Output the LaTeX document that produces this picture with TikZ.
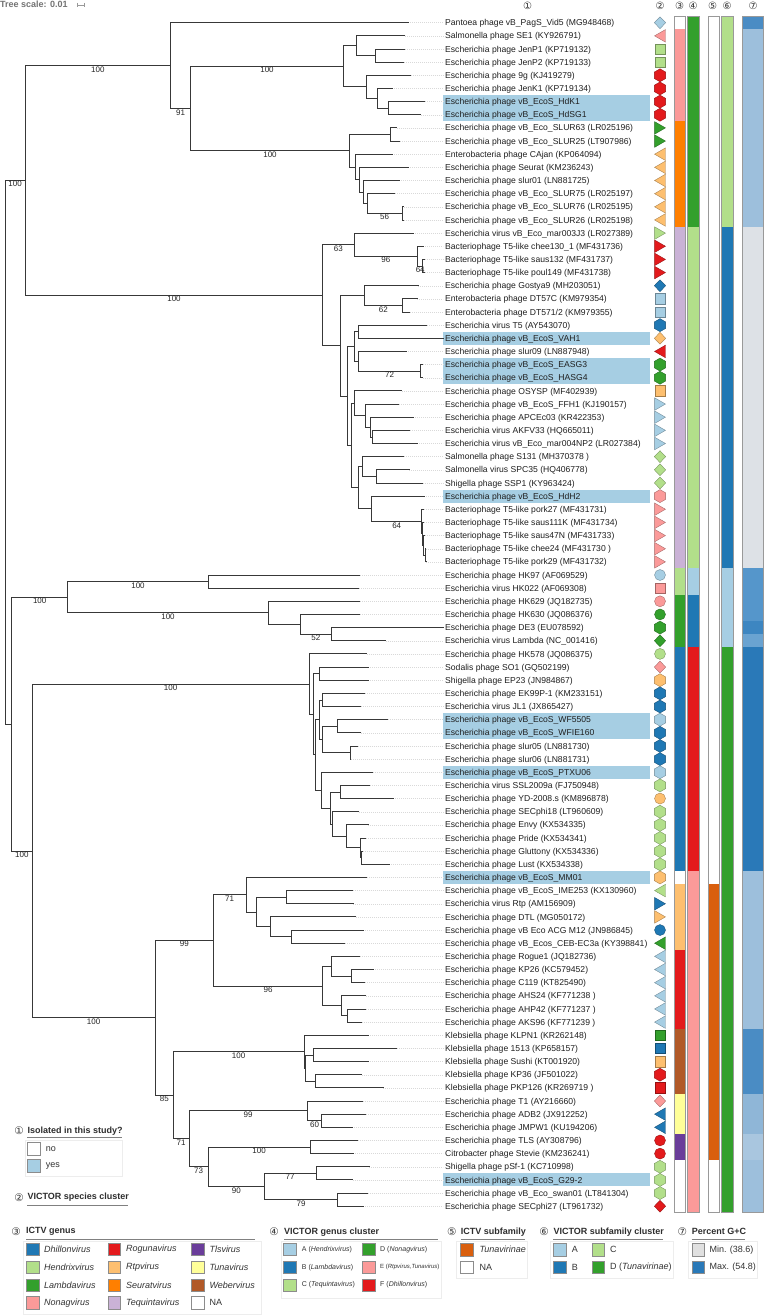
\documentclass[tikz,border=0pt]{standalone}
\usepackage{fontspec}
\setmainfont{Liberation Sans}
\newfontfamily\dvfont{DejaVu Sans}
\usetikzlibrary{calc,shapes.geometric}
\definecolor{cLB}{HTML}{A6CEE3}
\definecolor{cB}{HTML}{1F78B4}
\definecolor{cLG}{HTML}{B2DF8A}
\definecolor{cG}{HTML}{33A02C}
\definecolor{cPk}{HTML}{FB9A99}
\definecolor{cR}{HTML}{E31A1C}
\definecolor{cLO}{HTML}{FDBF6F}
\definecolor{cO}{HTML}{FF7F00}
\definecolor{cLP}{HTML}{CAB2D6}
\definecolor{cP}{HTML}{6A3D9A}
\definecolor{cY}{HTML}{FFFF99}
\definecolor{cBr}{HTML}{B15928}
\definecolor{cTu}{HTML}{D95F0E}
\definecolor{gA}{HTML}{4A8CC4}
\definecolor{gB}{HTML}{9DBFDC}
\definecolor{gC}{HTML}{DDE1E6}
\definecolor{gD}{HTML}{5596CB}
\definecolor{gE}{HTML}{3D86C1}
\definecolor{gF}{HTML}{6AA3D1}
\definecolor{gG}{HTML}{2A79B8}
\definecolor{gH}{HTML}{8FB6D7}
\definecolor{gI}{HTML}{A9C6DF}
\definecolor{gMin}{HTML}{E0E0E0}
\definecolor{gMax}{HTML}{2A79B8}
\definecolor{hl}{HTML}{A6CEE3}
\newcommand{\trn}[4]{%
  \path let \p1=(#3), \p2=(#4) in coordinate (#1) at (#2pt,{0.5*\y1+0.5*\y2});
  \draw[br] (#3) -| (#1);
  \draw[br] (#4) -| (#1);}
\newcommand{\bsv}[3]{\node[boot] (b#1) at ($(#1)!0.5!(#2 |- #1)$) {#3};}
\newcommand{\strp}[5]{\fill[#5] (#1,{22.7+(#3-1)*13.15-6.575}) rectangle (#2,{22.7+(#4-1)*13.15+6.575});}
\newcommand{\hlb}[2]{\fill[hl] (443.3,{22.7+(#1-1)*13.15-6.575}) rectangle (650,{22.7+(#2-1)*13.15+6.575});}
\newcommand{\lsw}[6]{\draw[swb, fill=#4] (#2,#3-6.2) rectangle ++(12.8,12.4); \node[li] (#1) at (#6,#3) {#5};}
\newcommand{\lswf}[6]{\draw[swb, fill=#4] (#2,#3-6.2) rectangle ++(12.8,12.4); \node[li4] (#1) at (#6,#3) {#5};}
\begin{document}
\begin{tikzpicture}[x=1pt,y=-1pt,
  br/.style={draw=black!78, line width=0.85pt, line cap=rect},
  boot/.style={below, inner sep=0.8pt, font=\fontsize{8}{9}\selectfont, text=black!85},
  lbl/.style={anchor=west, inner sep=0pt, text height=6.2pt, text depth=0pt, font=\fontsize{8.6}{10}\selectfont, text=black!88},
  lead/.style={draw=black!15, line width=0.4pt, dash pattern=on 0.7pt off 1.3pt},
  mk/.style={draw=#1!65!black, fill=#1, line width=0.35pt, inner sep=0pt},
  sq/.style={mk=#1, rectangle, minimum size=10.5pt},
  ci/.style={mk=#1, circle, minimum size=11pt},
  di/.style={mk=#1, diamond, minimum width=11.5pt, minimum height=12pt},
  hx/.style={mk=#1, regular polygon, regular polygon sides=6, shape border rotate=30, minimum size=13pt},
  tl/.style={mk=#1, regular polygon, regular polygon sides=3, shape border rotate=90, minimum size=14.5pt, xshift=1.8pt},
  tr/.style={mk=#1, regular polygon, regular polygon sides=3, shape border rotate=-90, minimum size=14.5pt, xshift=-1.8pt},
  stripline/.style={draw=black!40, line width=0.45pt},
  hdr/.style={font=\dvfont\fontsize{10}{11}\selectfont, text=black!80, inner sep=0pt},
  cn/.style={font=\dvfont\fontsize{10.5}{11}\selectfont, text=black!80, inner sep=0pt},
  lt/.style={anchor=west, inner sep=0pt, font=\bfseries\fontsize{9}{10}\selectfont, text=black!82},
  li/.style={anchor=west, inner sep=0pt, font=\fontsize{9}{10}\selectfont, text=black!80},
  li4/.style={anchor=west, inner sep=0pt, font=\fontsize{7}{8}\selectfont, text=black!80},
  ul/.style={draw=black!50, line width=0.6pt},
  pnl/.style={draw=black!7, line width=0.6pt},
  swb/.style={draw=black!45, line width=0.4pt}
]
\useasboundingbox (0,0) rectangle (765,1316);
\fill[white] (0,0) rectangle (765,1316);

% tree scale
\node[anchor=west, inner sep=0pt, font=\bfseries\fontsize{9}{10}\selectfont, text=black!55] (ts) at (0,4.5) {Tree scale: 0.01};
\coordinate (sc1) at (77,5); \coordinate (sc2) at (84,5);
\draw[black!40, line width=0.5pt] (sc1) -- (sc2) (77,3) -- (77,7) (84,3) -- (84,7);

% highlight boxes (isolated in this study)
\hlb{7}{8} \hlb{25}{25} \hlb{27}{28} \hlb{37}{37} \hlb{54}{55} \hlb{58}{58} \hlb{66}{66} \hlb{89}{89}

% leaves
\foreach \i/\tp/\sh/\cl/\tx in {
1/408.3/di/cLB/{Pantoea phage vB\_PagS\_Vid5 (MG948468)},
2/405/tl/cPk/{Salmonella phage SE1 (KY926791)},
3/405/sq/cLG/{Escherichia phage JenP1 (KP719132)},
4/404/sq/cLG/{Escherichia phage JenP2 (KP719133)},
5/410.7/hx/cR/{Escherichia phage 9g (KJ419279)},
6/392.3/hx/cR/{Escherichia phage JenK1 (KP719134)},
7/425/hx/cR/{Escherichia phage vB\_EcoS\_HdK1},
8/420.7/hx/cR/{Escherichia phage vB\_EcoS\_HdSG1},
9/396.7/tr/cG/{Escherichia phage vB\_Eco\_SLUR63 (LR025196)},
10/400/tr/cG/{Escherichia phage vB\_Eco\_SLUR25 (LT907986)},
11/392.3/tl/cLO/{Enterobacteria phage CAjan (KP064094)},
12/408.3/tl/cLO/{Escherichia phage Seurat (KM236243)},
13/399.3/tl/cLO/{Escherichia phage slur01 (LN881725)},
14/395/tl/cLO/{Escherichia phage vB\_Eco\_SLUR75 (LR025197)},
15/403.5/tl/cLO/{Escherichia phage vB\_Eco\_SLUR76 (LR025195)},
16/403.5/tl/cLO/{Escherichia phage vB\_Eco\_SLUR26 (LR025198)},
17/413.3/tr/cLG/{Escherichia virus vB\_Eco\_mar003J3 (LR027389)},
18/423.3/tr/cR/{Bacteriophage T5-like chee130\_1 (MF431736)},
19/424.5/tr/cR/{Bacteriophage T5-like saus132 (MF431737)},
20/425/tr/cR/{Bacteriophage T5-like poul149 (MF431738)},
21/418.3/di/cB/{Escherichia phage Gostya9 (MH203051)},
22/417.3/sq/cLB/{Enterobacteria phage DT57C (KM979354)},
23/410/sq/cLB/{Enterobacteria phage DT571/2 (KM979355)},
24/427/hx/cB/{Escherichia virus T5 (AY543070)},
25/443.3/di/cLO/{Escherichia phage vB\_EcoS\_VAH1},
26/406.3/tl/cR/{Escherichia phage slur09 (LN887948)},
27/422.5/hx/cG/{Escherichia phage vB\_EcoS\_EASG3},
28/422.5/hx/cG/{Escherichia phage vB\_EcoS\_HASG4},
29/401.7/sq/cLO/{Escherichia phage OSYSP (MF402939)},
30/399/tr/cLB/{Escherichia phage vB\_EcoS\_FFH1 (KJ190157)},
31/413.3/tr/cLB/{Escherichia phage APCEc03 (KR422353)},
32/410/tr/cLB/{Escherichia virus AKFV33 (HQ665011)},
33/417.3/tr/cLB/{Escherichia virus vB\_Eco\_mar004NP2 (LR027384)},
34/404/di/cLG/{Salmonella phage S131 (MH370378 )},
35/409.3/di/cLG/{Salmonella virus SPC35 (HQ406778)},
36/422.7/di/cLG/{Shigella phage SSP1 (KY963424)},
37/424.3/hx/cPk/{Escherichia phage vB\_EcoS\_HdH2},
38/423.5/tr/cPk/{Bacteriophage T5-like pork27 (MF431731)},
39/424/tr/cPk/{Bacteriophage T5-like saus111K (MF431734)},
40/424.5/tr/cPk/{Bacteriophage T5-like saus47N (MF431733)},
41/425.7/tr/cPk/{Bacteriophage T5-like chee24 (MF431730 )},
42/426.3/tr/cPk/{Bacteriophage T5-like pork29 (MF431732)},
43/360/ci/cLB/{Escherichia phage HK97 (AF069529)},
44/359/sq/cPk/{Escherichia virus HK022 (AF069308)},
45/360/ci/cPk/{Escherichia phage HK629 (JQ182735)},
46/360/ci/cG/{Escherichia phage HK630 (JQ086376)},
47/443.3/hx/cG/{Escherichia phage DE3 (EU078592)},
48/385.7/di/cG/{Escherichia virus Lambda (NC\_001416)},
49/366.7/ci/cLG/{Escherichia phage HK578 (JQ086375)},
50/368.3/di/cPk/{Sodalis phage SO1 (GQ502199)},
51/368.3/hx/cLO/{Shigella phage EP23 (JN984867)},
52/365/hx/cB/{Escherichia phage EK99P-1 (KM233151)},
53/361/hx/cB/{Escherichia virus JL1 (JX865427)},
54/387.7/hx/cLB/{Escherichia phage vB\_EcoS\_WF5505},
55/361/hx/cB/{Escherichia phage vB\_EcoS\_WFIE160},
56/357.7/hx/cB/{Escherichia phage slur05 (LN881730)},
57/351/hx/cB/{Escherichia phage slur06 (LN881731)},
58/372.7/hx/cLB/{Escherichia phage vB\_EcoS\_PTXU06},
59/370/hx/cLG/{Escherichia virus SSL2009a (FJ750948)},
60/393.3/ci/cLO/{Escherichia phage YD-2008.s (KM896878)},
61/359/hx/cLG/{Escherichia phage SECphi18 (LT960609)},
62/368.3/hx/cLG/{Escherichia phage Envy (KX534335)},
63/366/hx/cLG/{Escherichia phage Pride (KX534341)},
64/362.5/hx/cLG/{Escherichia phage Gluttony (KX534336)},
65/389.3/hx/cLG/{Escherichia phage Lust (KX534338)},
66/366.7/hx/cLO/{Escherichia phage vB\_EcoS\_MM01},
67/352.7/tl/cLG/{Escherichia phage vB\_EcoS\_IME253 (KX130960)},
68/353.3/tr/cB/{Escherichia virus Rtp (AM156909)},
69/356/tr/cLO/{Escherichia phage DTL (MG050172)},
70/363.3/ci/cB/{Escherichia phage vB Eco ACG M12 (JN986845)},
71/345/tl/cG/{Escherichia phage vB\_Ecos\_CEB-EC3a (KY398841)},
72/360/tl/cLB/{Escherichia phage Rogue1 (JQ182736)},
73/373.3/tl/cLB/{Escherichia phage KP26 (KC579452)},
74/365/tl/cLB/{Escherichia phage C119 (KT825490)},
75/366/tl/cLB/{Escherichia phage AHS24 (KF771238 )},
76/366/tl/cLB/{Escherichia phage AHP42 (KF771237 )},
77/361.7/tl/cLB/{Escherichia phage AKS96 (KF771239 )},
78/368.3/sq/cG/{Klebsiella phage KLPN1 (KR262148)},
79/396.7/sq/cB/{Klebsiella phage 1513 (KP658157)},
80/368.3/sq/cLO/{Klebsiella phage Sushi (KT001920)},
81/361.7/hx/cR/{Klebsiella phage KP36 (JF501022)},
82/383.3/sq/cR/{Klebsiella phage PKP126 (KR269719 )},
83/362.7/di/cPk/{Escherichia phage T1 (AY216660)},
84/366/tl/cB/{Escherichia phage ADB2 (JX912252)},
85/352.3/tl/cB/{Escherichia phage JMPW1 (KU194206)},
86/357.7/ci/cR/{Escherichia phage TLS (AY308796)},
87/353.3/ci/cR/{Citrobacter phage Stevie (KM236241)},
88/369.3/hx/cLG/{Shigella phage pSf-1 (KC710998)},
89/352.7/hx/cLG/{Escherichia phage vB\_EcoS\_G29-2},
90/367.7/hx/cLG/{Escherichia phage vB\_Eco\_swan01 (LT841304)},
91/363.3/di/cR/{Escherichia phage SECphi27 (LT961732)}}{
  \pgfmathsetmacro\yy{22.7+(\i-1)*13.15}
  \coordinate (L\i) at (\tp,\yy);
  \node[lbl] (T\i) at (445,\yy) {\tx};
  \draw[lead] (L\i) -- ([xshift=-1.7pt]T\i.west);
  \edef\mkcmd{\noexpand\node[\sh=\cl] (S\i) at (660,\yy) {};}\mkcmd
}

% ---------- tree: clade A ----------
\trn{a1}{375.7}{L3}{L4}
\trn{a2}{356}{L2}{a1}
\trn{a3}{388.7}{L7}{L8}
\trn{a4}{377}{L6}{a3}
\trn{a5}{366.3}{L5}{a4}
\trn{nA2a}{343.3}{a2}{a5}
\trn{a6}{390.7}{L9}{L10}
\trn{a7}{402}{L15}{L16}
\trn{a8}{367}{L14}{a7}
\trn{a9}{363}{L13}{a8}
\trn{a10}{359}{L12}{a9}
\trn{a11}{355}{L11}{a10}
\trn{nA2b}{349.3}{a6}{a11}
\trn{nA2}{190.7}{nA2a}{nA2b}
\trn{nA1}{170.3}{L1}{nA2}
\trn{c1}{422.7}{L19}{L20}
\trn{c2}{417.7}{L18}{c1}
\trn{c3}{354}{L17}{c2}
\trn{c4}{402.7}{L22}{L23}
\trn{c5}{364}{L21}{c4}
\trn{c6}{358.3}{L24}{L25}
\trn{c7}{420.7}{L27}{L28}
\trn{c8}{358.3}{L26}{c7}
\trn{c9}{354}{c6}{c8}
\trn{c10}{372.3}{L32}{L33}
\trn{c11}{370.7}{L31}{c10}
\trn{c12}{365}{L30}{c11}
\trn{c13}{354}{L29}{c12}
\trn{c14}{376}{L35}{L36}
\trn{c15}{362.7}{L34}{c14}
\trn{c16}{425}{L41}{L42}
\trn{c17}{423.5}{L40}{c16}
\trn{c18}{422.5}{L39}{c17}
\trn{c19}{421.7}{L38}{c18}
\trn{c20}{371.7}{L37}{c19}
\trn{c21}{358.3}{c15}{c20}
\trn{c22}{351.7}{c13}{c21}
\trn{c23}{347.7}{c9}{c22}
\trn{c24}{340}{c5}{c23}
\trn{nC}{322.7}{c3}{c24}
\trn{nA}{25.3}{nA1}{nC}
% ---------- clade B ----------
\trn{h1}{208.3}{L43}{L44}
\trn{h2}{331.3}{L47}{L48}
\trn{h3}{300.3}{L46}{h2}
\trn{h4}{268.3}{L45}{h3}
\trn{nH}{67.7}{h1}{h4}
\trn{j1}{319.3}{L50}{L51}
\trn{j2}{322.3}{L52}{L53}
\trn{j3}{337.3}{L54}{L55}
\trn{j4}{350}{L56}{L57}
\trn{j5}{322.7}{j3}{j4}
\trn{nM}{319.3}{j2}{j5}
\trn{j6}{340}{L59}{L60}
\trn{j7}{361.7}{L64}{L65}
\trn{j8}{360.7}{L63}{j7}
\trn{j9}{346.7}{L62}{j8}
\trn{j10}{332.7}{L61}{j9}
\trn{j11}{330}{j6}{j10}
\trn{nN}{321.7}{L58}{j11}
\trn{nL}{315}{nM}{nN}
\trn{nK}{313.3}{j1}{nL}
\trn{nJ}{309.3}{L49}{nK}
\trn{o1}{286}{L67}{L68}
\trn{o2}{291.7}{L70}{L71}
\trn{o3}{270}{L69}{o2}
\trn{o4}{256.7}{o1}{o3}
\trn{nQ}{246}{L66}{o4}
\trn{o5}{351.7}{L73}{L74}
\trn{o6}{331}{L72}{o5}
\trn{o7}{347.7}{L76}{L77}
\trn{o8}{341.7}{L75}{o7}
\trn{nR}{322.7}{o6}{o8}
\trn{nP}{213.3}{nQ}{nR}
\trn{s1}{313.3}{L79}{L80}
\trn{s2}{315}{L81}{L82}
\trn{nU}{305.5}{s1}{s2}
\trn{nT}{304}{L78}{nU}
\trn{w1}{321.7}{L84}{L85}
\trn{nW}{307.3}{L83}{w1}
\trn{x1}{310}{L86}{L87}
\trn{y1}{316}{L88}{L89}
\trn{y2}{337.7}{L90}{L91}
\trn{nY}{264.3}{y1}{y2}
\trn{nX}{208.3}{x1}{nY}
\trn{nV}{189}{nW}{nX}
\trn{nS}{173.3}{nT}{nV}
\trn{nO}{155.3}{nP}{nS}
\trn{nI}{32}{nJ}{nO}
\trn{nB}{11.7}{nH}{nI}
\trn{root}{5}{nA}{nB}

% bootstrap values
\bsv{nA}{root}{100}
\bsv{nA1}{nA}{100}
\bsv{nC}{nA}{100}
\bsv{nA2}{nA1}{91}
\bsv{nA2a}{nA2}{100}
\bsv{nA2b}{nA2}{100}
\bsv{a7}{a8}{56}
\bsv{c3}{nC}{63}
\bsv{c2}{c3}{96}
\bsv{c1}{c2}{64}
\bsv{c4}{c5}{62}
\bsv{c7}{c8}{72}
\bsv{c19}{c20}{64}
\bsv{nH}{nB}{100}
\bsv{nI}{nB}{100}
\bsv{h1}{nH}{100}
\bsv{h4}{nH}{100}
\bsv{h2}{h3}{52}
\bsv{nJ}{nI}{100}
\bsv{nO}{nI}{100}
\bsv{nP}{nO}{99}
\bsv{nQ}{nP}{71}
\bsv{nR}{nP}{96}
\bsv{nS}{nO}{85}
\bsv{nT}{nS}{100}
\bsv{nV}{nS}{71}
\bsv{nW}{nV}{99}
\bsv{w1}{nW}{60}
\bsv{nX}{nV}{73}
\bsv{x1}{nX}{100}
\bsv{nY}{nX}{90}
\bsv{y1}{nY}{77}
\bsv{y2}{nY}{79}

% ---------- strips ----------
% 3 ICTV genus
\strp{674.7}{685.7}{2}{8}{cPk}
\strp{674.7}{685.7}{9}{16}{cO}
\strp{674.7}{685.7}{17}{42}{cLP}
\strp{674.7}{685.7}{43}{44}{cLG}
\strp{674.7}{685.7}{45}{48}{cG}
\strp{674.7}{685.7}{49}{65}{cB}
\strp{674.7}{685.7}{67}{71}{cLO}
\strp{674.7}{685.7}{72}{77}{cR}
\strp{674.7}{685.7}{78}{82}{cBr}
\strp{674.7}{685.7}{83}{85}{cY}
\strp{674.7}{685.7}{86}{87}{cP}
% 4 VICTOR genus
\strp{687}{699.3}{1}{16}{cG}
\strp{687}{699.3}{17}{42}{cLG}
\strp{687}{699.3}{43}{44}{cLB}
\strp{687}{699.3}{45}{48}{cB}
\strp{687}{699.3}{49}{65}{cR}
\strp{687}{699.3}{66}{91}{cPk}
% 5 ICTV subfamily
\strp{708.3}{719.7}{67}{87}{cTu}
% 6 VICTOR subfamily
\strp{721.7}{733.3}{1}{16}{cLG}
\strp{721.7}{733.3}{17}{42}{cB}
\strp{721.7}{733.3}{43}{48}{cLB}
\strp{721.7}{733.3}{49}{91}{cG}
% 7 G+C
\strp{742.3}{763}{1}{1}{gA}
\strp{742.3}{763}{2}{16}{gB}
\strp{742.3}{763}{17}{42}{gC}
\strp{742.3}{763}{43}{46}{gD}
\strp{742.3}{763}{47}{47}{gE}
\strp{742.3}{763}{48}{48}{gF}
\strp{742.3}{763}{49}{65}{gG}
\strp{742.3}{763}{66}{77}{gB}
\strp{742.3}{763}{78}{82}{gA}
\strp{742.3}{763}{83}{85}{gH}
\strp{742.3}{763}{86}{87}{gI}
\strp{742.3}{763}{88}{91}{gB}
\draw[stripline] (674.7,16.1) rectangle (685.7,1212.1);
\draw[stripline] (687,16.1) rectangle (699.3,1212.1);
\draw[stripline] (708.3,16.1) rectangle (719.7,1212.1);
\draw[stripline] (721.7,16.1) rectangle (733.3,1212.1);
\draw[stripline] (742.3,16.1) rectangle (763,1212.1);

% column headers
\node[hdr] (hd1) at (527.7,6) {①};
\node[hdr] (hd2) at (660,6) {②};
\node[hdr] (hd3) at (679.5,6) {③};
\node[hdr] (hd4) at (693,6) {④};
\node[hdr] (hd5) at (712.5,6) {⑤};
\node[hdr] (hd6) at (727,6) {⑥};
\node[hdr] (hd7) at (753,6) {⑦};

% ---------- legends ----------
% 1
\node[cn] (lg1n) at (19,1130.7) {①};
\node[lt] (lg1t) at (27.3,1130.7) {Isolated in this study?};
\draw[ul] (27,1137.3) -- (122,1137.3);
\draw[pnl] (25,1140) rectangle (122.7,1176.7);
\lsw{lg1a}{27.3}{1148.7}{white}{no}{45.7}
\lsw{lg1b}{27.3}{1165.8}{cLB}{yes}{45.7}
% 2
\node[cn] (lg2n) at (19,1197.3) {②};
\node[lt] (lg2t) at (27.3,1197.3) {VICTOR species cluster};
\draw[ul] (27,1205) -- (128,1205);
% 3
\node[cn] (lg3n) at (16,1231.7) {③};
\node[lt] (lg3t) at (26,1231.7) {ICTV genus};
\draw[ul] (26,1239) -- (255,1239);
\draw[pnl] (23.3,1241.5) rectangle (261.7,1314);
\lsw{g1}{26}{1249.3}{cB}{\itshape Dhillonvirus}{44}
\lsw{g2}{26}{1267.3}{cLG}{\itshape Hendrixvirus}{44}
\lsw{g3}{26}{1285}{cG}{\itshape Lambdavirus}{44}
\lsw{g4}{26}{1302.7}{cPk}{\itshape Nonagvirus}{44}
\lsw{g5}{107.7}{1249.3}{cR}{\itshape Rogunavirus}{126}
\lsw{g6}{107.7}{1267.3}{cLO}{\itshape Rtpvirus}{126}
\lsw{g7}{107.7}{1285}{cO}{\itshape Seuratvirus}{126}
\lsw{g8}{107.7}{1302.7}{cLP}{\itshape Tequintavirus}{126}
\lsw{g9}{191}{1249.3}{cP}{\itshape Tlsvirus}{209.3}
\lsw{g10}{191}{1267.3}{cY}{\itshape Tunavirus}{209.3}
\lsw{g11}{191}{1285}{cBr}{\itshape Webervirus}{209.3}
\lsw{g12}{191}{1302.7}{white}{NA}{209.3}
% 4
\node[cn] (lg4n) at (274,1231.7) {④};
\node[lt] (lg4t) at (284,1231.7) {VICTOR genus cluster};
\draw[ul] (284,1239) -- (438,1239);
\draw[pnl] (281,1241.5) rectangle (441.5,1298.3);
\lswf{v1}{283.3}{1249.3}{cLB}{A (\textit{Hendrixvirus})}{301.7}
\lswf{v2}{283.3}{1267.3}{cB}{B (\textit{Lambdavirus})}{301.7}
\lswf{v3}{283.3}{1285}{cLG}{C (\textit{Tequintavirus})}{301.7}
\lswf{v4}{362.3}{1249.3}{cG}{D (\textit{Nonagvirus})}{380}
\lswf{v5}{362.3}{1267.3}{cPk}{\fontsize{6}{7}\selectfont E (\textit{Rtpvirus,Tunavirus})}{380}
\lswf{v6}{362.3}{1285}{cR}{F (\textit{Dhillonvirus})}{380}
% 5
\node[cn] (lg5n) at (451.7,1231.7) {⑤};
\node[lt] (lg5t) at (460.7,1231.7) {ICTV subfamily};
\draw[ul] (460.7,1239) -- (525,1239);
\draw[pnl] (456.7,1241.5) rectangle (527.3,1278.3);
\lsw{u1}{460}{1249.7}{cTu}{\itshape Tunavirinae}{479.3}
\lsw{u2}{460}{1267.3}{white}{NA}{479.3}
% 6
\node[cn] (lg6n) at (544,1231.7) {⑥};
\node[lt] (lg6t) at (553.3,1231.7) {VICTOR subfamily cluster};
\draw[ul] (553.3,1239) -- (662.7,1239);
\draw[pnl] (550,1241.5) rectangle (673.3,1278.3);
\lsw{f1}{553.3}{1249.7}{cLB}{A}{571.7}
\lsw{f2}{553.3}{1267.3}{cB}{B}{571.7}
\lsw{f3}{591.7}{1249.7}{cLG}{C}{610}
\lsw{f4}{591.7}{1267.3}{cG}{D (\textit{Tunavirinae})}{610}
% 7
\node[cn] (lg7n) at (682.3,1231.7) {⑦};
\node[lt] (lg7t) at (691.7,1231.7) {Percent G+C};
\draw[ul] (691.7,1239) -- (745,1239);
\draw[pnl] (688.3,1241.5) rectangle (757.7,1278.3);
\lsw{p1}{691.7}{1249.7}{gMin}{Min. (38.6)}{709.3}
\lsw{p2}{691.7}{1267.3}{gMax}{Max. (54.8)}{709.3}
\end{tikzpicture}
\end{document}
